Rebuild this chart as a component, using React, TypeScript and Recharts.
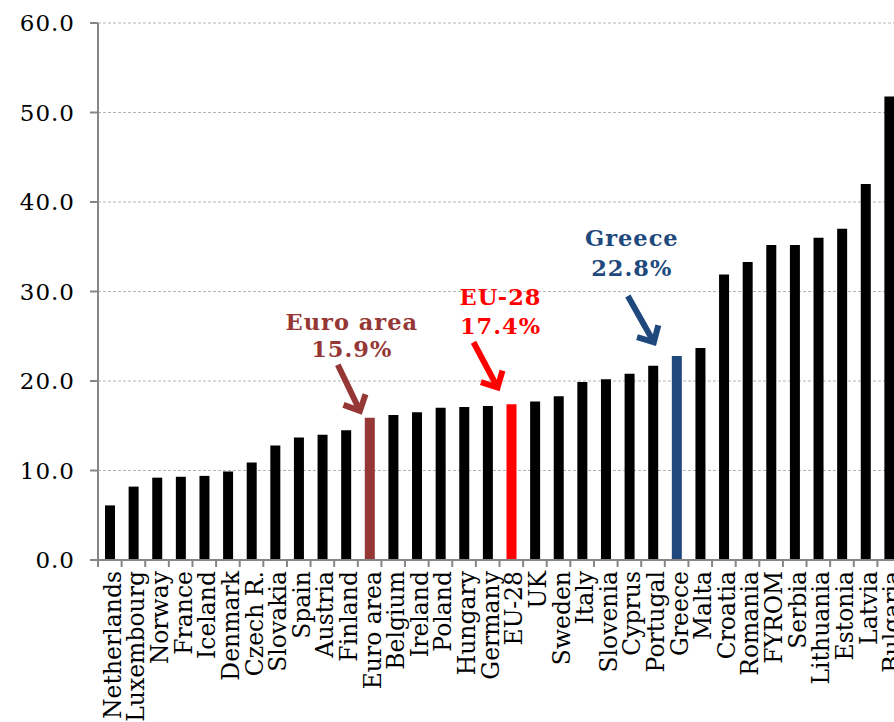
import React from 'react';
import { BarChart, Bar, XAxis, YAxis, CartesianGrid, Cell, LabelList } from 'recharts';

const countries = [
  'Netherlands', 'Luxembourg', 'Norway', 'France', 'Iceland', 'Denmark', 'Czech R.',
  'Slovakia', 'Spain', 'Austria', 'Finland', 'Euro area', 'Belgium', 'Ireland', 'Poland',
  'Hungary', 'Germany', 'EU-28', 'UK', 'Sweden', 'Italy', 'Slovenia', 'Cyprus', 'Portugal',
  'Greece', 'Malta', 'Croatia', 'Romania', 'FYROM', 'Serbia', 'Lithuania', 'Estonia',
  'Latvia', 'Bulgaria',
];

const rates = [
  6.1, 8.2, 9.2, 9.3, 9.4, 9.9, 10.9, 12.8, 13.7, 14.0, 14.5, 15.9, 16.2, 16.5, 17.0,
  17.1, 17.2, 17.4, 17.7, 18.3, 19.9, 20.2, 20.8, 21.7, 22.8, 23.7, 31.9, 33.3, 35.2,
  35.2, 36.0, 37.0, 42.0, 51.8,
];

const yTicks = [0, 10, 20, 30, 40, 50, 60];

// highlighted bars and their call-outs
const highlightColors: Record<string, string> = {
  'Euro area': '#953735',
  'EU-28': '#FF0000',
  Greece: '#1F497D',
};

const callouts: Record<string, { lines: string[]; color: string; tx: number; ty: number[]; from: [number, number]; to: [number, number] }> = {
  'Euro area': { lines: ['Euro area', '15.9%'], color: '#953735', tx: -18, ty: [-88, -61], from: [-32, -53], to: [-9, -5] },
  'EU-28': { lines: ['EU-28', '17.4%'], color: '#FF0000', tx: -11, ty: [-99, -70], from: [-38, -62], to: [-13, -15] },
  Greece: { lines: ['Greece', '22.8%'], color: '#1F497D', tx: -45, ty: [-110, -80], from: [-49, -60], to: [-22, -12] },
};

const data = countries.map((name, i) => ({ name, value: rates[i] }));

const FONT = '"DejaVu Serif", serif';

const XTick = (props: any) => {
  const { x, y, payload, index } = props;
  const half = payload && payload.offset ? payload.offset : 11.8;
  return (
    <g>
      <line x1={x - half} y1={y} x2={x - half} y2={y + 7} stroke="#868686" strokeWidth={2} />
      {index === countries.length - 1 && (
        <line x1={x + half} y1={y} x2={x + half} y2={y + 7} stroke="#868686" strokeWidth={2} />
      )}
      <text
        x={0}
        y={0}
        transform={`translate(${x + 11},${y + 11}) rotate(-90)`}
        textAnchor="end"
        fontSize={23.5}
        fontFamily={FONT}
        fill="#000"
      >
        {payload.value}
      </text>
    </g>
  );
};

const Callout = (props: any) => {
  const { x, y, width, index } = props;
  const c = callouts[countries[index]];
  if (!c) return null;
  const cx = x + width / 2;
  const cy = y;
  const x1 = cx + c.from[0];
  const y1 = cy + c.from[1];
  const x2 = cx + c.to[0];
  const y2 = cy + c.to[1];
  const len = Math.hypot(x2 - x1, y2 - y1);
  const ux = (x2 - x1) / len;
  const uy = (y2 - y1) / len;
  const arm = 19;
  const ang = (40 * Math.PI) / 180;
  const rot = (a: number) => [ux * Math.cos(a) - uy * Math.sin(a), ux * Math.sin(a) + uy * Math.cos(a)];
  const [ax, ay] = rot(ang);
  const [bx, by] = rot(-ang);
  return (
    <g>
      {c.lines.map((t, i) => (
        <text
          key={t}
          x={cx + c.tx}
          y={cy + c.ty[i]}
          textAnchor="middle"
          fontSize={22.5}
          fontWeight="bold"
          letterSpacing={1}
          fontFamily={FONT}
          fill={c.color}
        >
          {t}
        </text>
      ))}
      <line x1={x1} y1={y1} x2={x2 - ux * 3} y2={y2 - uy * 3} stroke={c.color} strokeWidth={6} />
      <polyline
        points={`${x2 - ax * arm},${y2 - ay * arm} ${x2 - ux * 2},${y2 - uy * 2} ${x2 - bx * arm},${y2 - by * arm}`}
        fill="none"
        stroke={c.color}
        strokeWidth={6}
        strokeLinejoin="miter"
      />
    </g>
  );
};

export default function App() {
  return (
    <div style={{ position: 'fixed', left: 0, top: 0, width: 894, height: 722, overflow: 'hidden', background: '#fff' }}>
      <BarChart
        width={920}
        height={722}
        data={data}
        margin={{ top: 23, right: 19, left: 0, bottom: 0 }}
        barCategoryGap={0}
      >
        <CartesianGrid vertical={false} stroke="#b4b4b4" strokeDasharray="3 2" />
        <YAxis
          width={98}
          domain={[0, 60]}
          ticks={yTicks}
          interval={0}
          tickFormatter={(v: number) => v.toFixed(1)}
          axisLine={{ stroke: '#868686', strokeWidth: 2 }}
          tickLine={{ stroke: '#868686', strokeWidth: 2 }}
          tickSize={8}
          tickMargin={15}
          tick={{ fill: '#000', fontSize: 23, fontFamily: FONT, letterSpacing: 1 }}
        />
        <XAxis
          dataKey="name"
          interval={0}
          height={162}
          tickSize={0}
          tickMargin={0}
          tickLine={false}
          axisLine={{ stroke: '#868686', strokeWidth: 2 }}
          tick={<XTick />}
        />
        <Bar dataKey="value" barSize={10} isAnimationActive={false}>
          {data.map((d) => (
            <Cell key={d.name} fill={highlightColors[d.name] || '#000'} />
          ))}
          <LabelList dataKey="value" content={<Callout />} />
        </Bar>
      </BarChart>
    </div>
  );
}
